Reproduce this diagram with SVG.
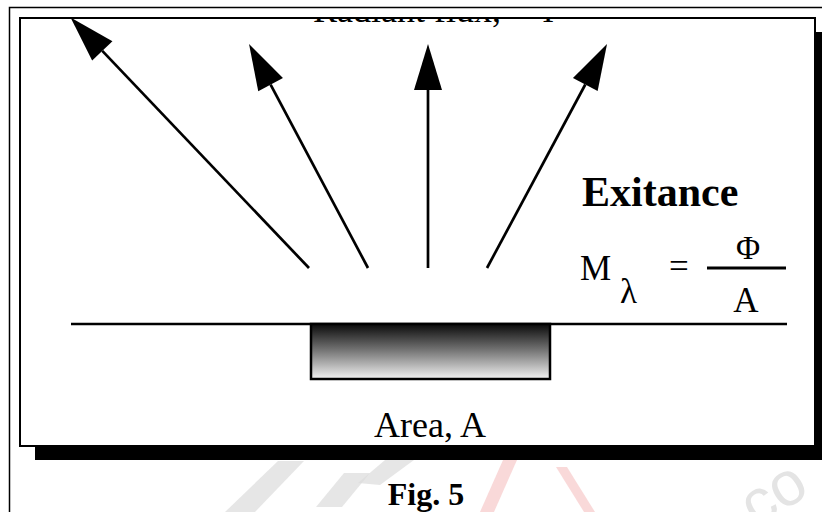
<svg xmlns="http://www.w3.org/2000/svg" width="822" height="512" viewBox="0 0 822 512">
  <style>
    .serif { font-family: "Liberation Serif", "Times New Roman", serif; fill: #000; }
    .bold { font-weight: bold; }
    .ray { stroke: #000; stroke-width: 2.7; fill: none; marker-end: url(#head); }
    .edge { stroke: #000; stroke-width: 2.7; fill: none; }
    .wm-grey { fill: #dcdcdc; opacity: 0.7; }
    .wm-red { fill: #f4b4b4; opacity: 0.5; }
  </style>
  <defs>
    <marker id="head" markerUnits="userSpaceOnUse" viewBox="0 -15 48 30" markerWidth="48" markerHeight="30" refX="0" refY="0" orient="auto" overflow="visible">
      <path d="M0,-14 L46,0 L0,14 Z" fill="#000"/>
    </marker>
    <linearGradient id="slab" x1="0" y1="0" x2="0" y2="1">
      <stop offset="0" stop-color="#0a0a0a"/>
      <stop offset="0.5" stop-color="#7a7a7a"/>
      <stop offset="1" stop-color="#f2f2f2"/>
    </linearGradient>
    <clipPath id="topClip">
      <rect x="0" y="18" width="822" height="30"/>
    </clipPath>
  </defs>

  <rect x="0" y="0" width="822" height="512" fill="#fff"/>

  <!-- faint background watermark -->
  <g id="watermark">
    <polygon class="wm-grey" points="225,512 255,512 304,461 278,461"/>
    <polygon class="wm-grey" points="316,507 342,507 370,473 344,473"/>
    <polygon class="wm-grey" points="358,483 380,485 414,460 385,460"/>
    <polygon class="wm-red" points="480,512 494,512 517,460 503,460"/>
    <polygon class="wm-red" points="556,467 567,467 595,512 584,512" opacity="0.3"/>
    <text x="756" y="528" transform="rotate(-32 756 528)" font-family="Liberation Sans, Arial, sans-serif" font-size="62" fill="#e4e4e4">co</text>
  </g>

  <!-- outer page frame -->
  <rect id="frame" x="9.5" y="7.5" width="830" height="520" fill="none" stroke="#000" stroke-width="1.5"/>

  <!-- panel with drop shadow -->
  <g id="panel">
    <rect x="35" y="32" width="800" height="428" fill="#000"/>
    <rect x="20" y="18" width="795" height="428" fill="#fff" stroke="#000" stroke-width="2"/>
  </g>

  <!-- title, cut off at the panel edge -->
  <g id="title" clip-path="url(#topClip)">
    <text class="serif" x="313" y="22" font-size="36">Radiant flux,<tspan x="535">Φ</tspan></text>
  </g>

  <!-- emitted rays -->
  <g id="connectors">
    <line class="ray" x1="309" y1="268" x2="102.3" y2="50.9"/>
    <line class="ray" x1="368" y1="268" x2="270.6" y2="84.6"/>
    <line class="ray" x1="428" y1="268" x2="428" y2="90"/>
    <line class="ray" x1="487" y1="268" x2="585.3" y2="84.5"/>
  </g>

  <!-- emitting surface -->
  <g id="surface">
    <line class="edge" x1="71" y1="324" x2="787" y2="324"/>
    <rect x="311" y="324" width="239" height="55" fill="url(#slab)" stroke="#000" stroke-width="2.5"/>
    <text class="serif" x="430" y="437" font-size="36" text-anchor="middle">Area, A</text>
  </g>

  <!-- exitance formula -->
  <g id="formula">
    <text class="serif bold" x="582" y="206" font-size="42">Exitance</text>
    <text class="serif" x="580" y="280" font-size="35">M</text>
    <text class="serif" x="620" y="303" font-size="35">λ</text>
    <text class="serif" x="669" y="278" font-size="35">=</text>
    <line x1="707" y1="268" x2="786" y2="268" stroke="#000" stroke-width="3"/>
    <text class="serif" x="748" y="259" font-size="33" text-anchor="middle">Φ</text>
    <text class="serif" x="746" y="312" font-size="35" text-anchor="middle">A</text>
  </g>

  <!-- caption -->
  <g id="caption">
    <text class="serif bold" x="426" y="505" font-size="32" text-anchor="middle">Fig. 5</text>
  </g>
</svg>
